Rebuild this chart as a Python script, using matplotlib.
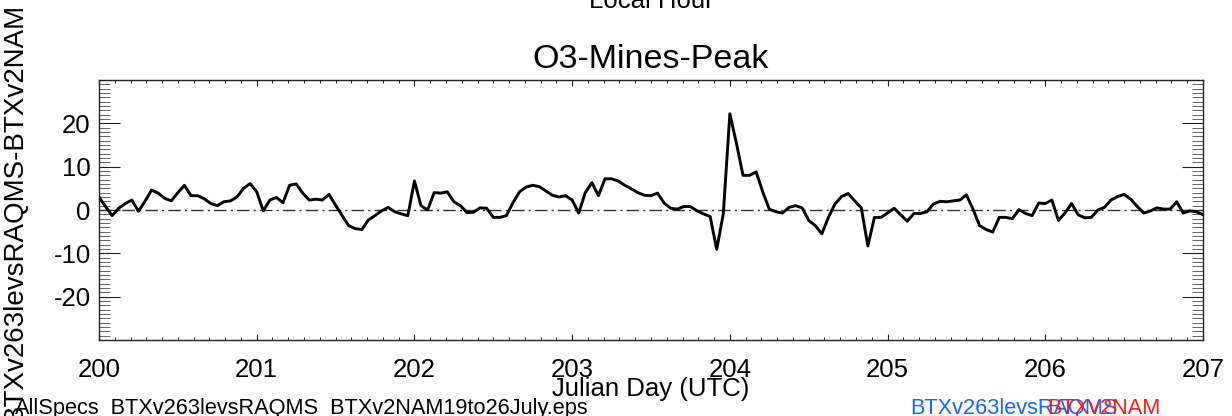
import matplotlib.pyplot as plt
import numpy as np
from matplotlib.ticker import MultipleLocator

plt.rcParams['font.family'] = ['Liberation Sans', 'DejaVu Sans']
plt.rcParams['axes.unicode_minus'] = False

# Hourly differences starting at Julian day 200.0
start_day = 200
diff_values = [
    3.0, 0.8, -1.3, 0.4, 1.5, 2.3, -0.3, 2.0, 4.6, 3.9, 2.7, 2.1, 4.0, 5.7, 3.3, 3.3,
    2.6, 1.5, 1.0, 1.9, 2.1, 3.0, 5.0, 6.1, 4.2, -0.2, 2.3, 2.9, 1.7, 5.7, 6.0, 3.9,
    2.3, 2.5, 2.3, 3.6, 1.1, -1.3, -3.6, -4.3, -4.5, -2.3, -1.3, -0.2, 0.6, -0.4, -0.9, -1.3,
    6.7, 1.0, 0.0, 4.0, 3.9, 4.2, 1.9, 1.0, -0.6, -0.5, 0.5, 0.4, -1.7, -1.7, -1.3, 1.7,
    4.2, 5.3, 5.7, 5.4, 4.4, 3.4, 3.0, 3.3, 2.3, -0.7, 4.0, 6.3, 3.3, 7.2, 7.2, 6.7,
    5.7, 4.9, 4.0, 3.4, 3.3, 3.9, 1.6, 0.4, 0.2, 0.8, 0.8, -0.2, -0.9, -1.5, -9.1, -0.9,
    22.2, 15.4, 8.0, 8.0, 8.8, 4.2, 0.2, -0.4, -0.7, 0.6, 1.0, 0.5, -2.4, -3.6, -5.5, -1.7,
    1.4, 3.1, 3.8, 2.1, 0.5, -8.3, -1.7, -1.7, -0.7, 0.4, -1.1, -2.6, -0.8, -0.8, -0.4, 1.4,
    2.0, 1.9, 2.1, 2.3, 3.5, 0.2, -3.6, -4.5, -5.1, -1.7, -1.7, -2.0, 0.1, -0.8, -1.3, 1.6,
    1.5, 2.3, -2.4, -0.7, 1.5, -1.1, -1.8, -1.7, 0.0, 0.6, 2.3, 3.1, 3.6, 2.5, 0.8, -0.7,
    -0.2, 0.5, 0.2, 0.2, 1.9, -0.7, -0.2, -0.4, -1.1,
]
day_ticks = [200, 201, 202, 203, 204, 205, 206, 207]
value_ticks = [-20, -10, 0, 10, 20]

days = start_day + np.arange(len(diff_values)) / 24.0

fig = plt.figure(figsize=(12.32, 4.16), dpi=100)
ax = fig.add_axes([99 / 1232, 1 - 340 / 416, (1203 - 99) / 1232, (340 - 80) / 416])

ax.axhline(0, color='#333333', lw=1.0, linestyle=(0, (9, 3, 1.5, 3)))
ax.plot(days, diff_values, color='black', lw=2.1)

ax.set_xlim(200, 207)
ax.set_ylim(-30, 30)
ax.set_xticks(day_ticks)
ax.set_yticks(value_ticks)
ax.xaxis.set_minor_locator(MultipleLocator(0.1))
ax.yaxis.set_minor_locator(MultipleLocator(1))
ax.tick_params(axis='both', which='both', direction='in', top=True, right=True,
               labelsize=18.5, color='#222222')
ax.tick_params(axis='x', which='major', length=4.5, width=0.8, pad=13)
ax.tick_params(axis='x', which='minor', length=2.4, width=0.7)
ax.tick_params(axis='y', which='major', length=15, width=0.8, pad=6)
ax.tick_params(axis='y', which='minor', length=8, width=0.7, color='#666666')
for sp in ax.spines.values():
    sp.set_linewidth(1.0)
    sp.set_color('#222222')

ax.set_title('O3-Mines-Peak', fontsize=24.5, pad=9)

fig.text(651 / 1232, 1 - 8 / 416, 'Local Hour', fontsize=18.5, ha='center', va='baseline')
fig.text(651 / 1232, 1 - 396 / 416, 'Julian Day (UTC)', fontsize=18.5, ha='center', va='baseline')
fig.text(15 / 1232, 1 - 212 / 416, 'BTXv263levsRAQMS-BTXv2NAM', fontsize=20,
         rotation=90, ha='center', va='center')
fig.text(15 / 1232, 1 - 414 / 416, 'AllSpecs_BTXv263levsRAQMS_BTXv2NAM19to26July.eps',
         fontsize=15.7, ha='left', va='baseline')
fig.text(910 / 1232, 1 - 414 / 416, 'BTXv263levsRAQMS', fontsize=15.7, color='#1a66ff',
         ha='left', va='baseline')
fig.text(1047 / 1232, 1 - 414 / 416, 'BTXv2NAM', fontsize=15.7, color='#ff1a1a',
         ha='left', va='baseline')

fig.savefig('out.png', dpi=100)
